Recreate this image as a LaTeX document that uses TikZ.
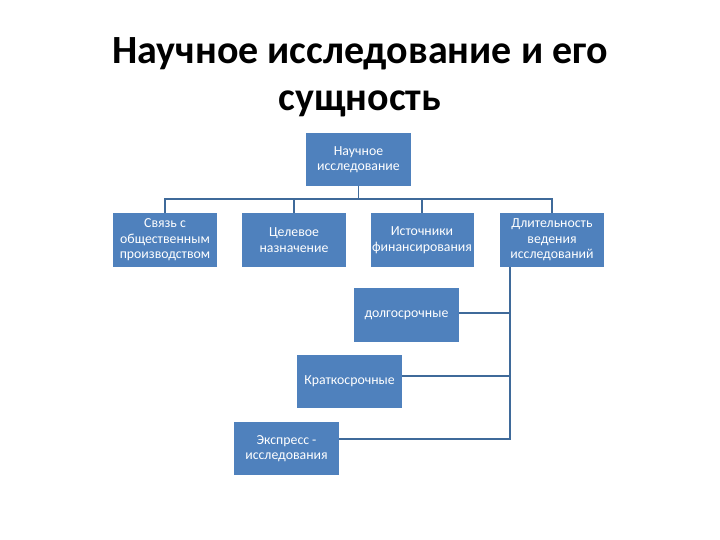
\documentclass[tikz,border=0pt]{standalone}
\usepackage{fontspec}
\setmainfont{Carlito}
\definecolor{boxblue}{HTML}{4F81BD}
\definecolor{linec}{HTML}{3F6A9A}
\begin{document}
\begin{tikzpicture}[x=1pt,y=-1pt,
  bx/.style={fill=boxblue, text=white, inner sep=1pt, align=center,
    font=\fontsize{13.8}{15.5}\selectfont},
  con/.style={draw=linec, line width=1.6pt}]
\useasboundingbox (0,0) rectangle (720,540);
\node[font=\bfseries\fontsize{40}{47}\selectfont, align=center] (title) at (360,77) {Научное исследование и его\\сущность};
\node[bx, minimum width=105pt, minimum height=53pt] (top) at (358.5,159.5) {Научное\\исследование};
\node[bx, minimum width=104pt, minimum height=54pt] (a) at (165,240) {Связь с\\общественным\\производством};
\node[bx, minimum width=104pt, minimum height=54pt] (b) at (294,240) {Целевое\\назначение};
\node[bx, minimum width=103pt, minimum height=54pt] (c) at (422,240) {Источники\\финансирования};
\node[bx, minimum width=104pt, minimum height=54pt] (d) at (552,240) {Длительность\\ведения\\исследований};
\node[bx, minimum width=105pt, minimum height=54pt] (e) at (406.5,315) {долгосрочные};
\node[bx, minimum width=105pt, minimum height=53pt] (f) at (349.5,381.5) {Краткосрочные};
\node[bx, minimum width=105pt, minimum height=53pt] (g) at (286.5,448.5) {Экспресс -\\исследования};
\coordinate (bar) at (358.5,199);
\draw[con, line width=1pt] (top.south) -- (bar);
\draw[con, line width=1.4pt] (a.north) |- (bar) -| (d.north);
\draw[con, line width=1.4pt] (b.north) -- (b.north |- bar);
\draw[con, line width=1.4pt] (c.north) -- (c.north |- bar);
\coordinate (trunk) at (510,439);
\draw[con, line width=2pt] ([xshift=-42pt]d.south) -- (trunk) -- (g.east |- trunk);
\draw[con] ([yshift=2pt]e.east) -- ([yshift=2pt]e.east -| trunk);
\draw[con] ([yshift=5.5pt]f.east) -- ([yshift=5.5pt]f.east -| trunk);
\end{tikzpicture}
\end{document}
